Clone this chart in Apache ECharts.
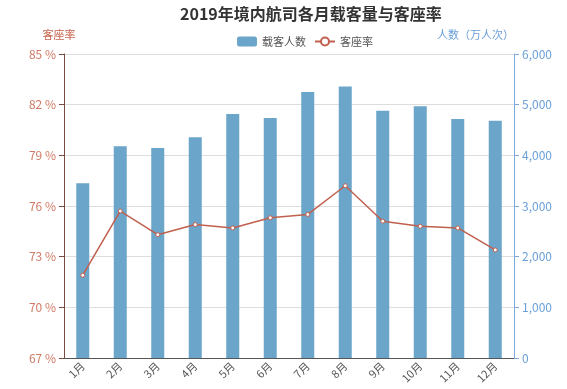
<!DOCTYPE html>
<html><head><meta charset="utf-8">
<script src="https://cdn.jsdelivr.net/npm/echarts@6/dist/echarts.min.js"></script>
<style>html,body{margin:0;padding:0;background:#fff}#c{width:567px;height:389px}</style>
</head><body><div id="c"></div>
<script>
var months = ['1月','2月','3月','4月','5月','6月','7月','8月','9月','10月','11月','12月'];
var passengers = [3450, 4180, 4145, 4355, 4815, 4737, 5250, 5360, 4880, 4970, 4717, 4683];
var loadFactor = [71.9, 75.7, 74.3, 74.9, 74.7, 75.3, 75.5, 77.2, 75.1, 74.8, 74.7, 73.4];
var font = 'Noto Sans CJK SC';
var chart = echarts.init(document.getElementById('c'));
chart.setOption({
  animation: false,
  textStyle: {fontFamily: font},
  title: {text: '2019年境内航司各月载客量与客座率', left: 175, top: 1,
    textStyle: {fontSize: 16, fontWeight: 'bold', color: '#333', fontFamily: font}},
  legend: {top: 31, left: 232, itemWidth: 20, itemHeight: 10, itemGap: 8,
    textStyle: {fontSize: 11, color: '#555', fontFamily: font},
    data: [{name: '载客人数'}, {name: '客座率'}]},
  grid: {left: 64, right: 53, top: 54, bottom: 31, containLabel: false},
  xAxis: {type: 'category', data: months,
    axisLine: {lineStyle: {color: '#555'}},
    axisTick: {alignWithLabel: true, lineStyle: {color: '#555'}},
    axisLabel: {rotate: 45, color: '#555', fontSize: 11, margin: 6}},
  yAxis: [
    {type: 'value', name: '客座率', min: 67, max: 85, interval: 3,
     nameGap: 14, nameTextStyle: {color: '#c8644e', fontSize: 11, align: 'center', padding: [0, 10, 0, 0]},
     axisLine: {show: true, lineStyle: {color: '#7a4a42'}},
     axisTick: {show: true, lineStyle: {color: '#7a4a42'}},
     axisLabel: {formatter: '{value} %', color: '#d07a66', fontSize: 12},
     splitLine: {lineStyle: {color: '#ddd'}}},
    {type: 'value', name: '人数（万人次）', min: 0, max: 6000, interval: 1000,
     nameGap: 14, nameTextStyle: {color: '#6a9fd8', fontSize: 11, align: 'right', padding: [0, 0, 0, 0]},
     axisLine: {show: true, lineStyle: {color: '#7fa9d9'}},
     axisTick: {show: true, lineStyle: {color: '#7fa9d9'}},
     axisLabel: {color: '#6a9fd8', fontSize: 12,
       formatter: function (v) { return v.toLocaleString('en-US'); }},
     splitLine: {show: false}}
  ],
  series: [
    {name: '载客人数', type: 'bar', yAxisIndex: 1, data: passengers, barWidth: 13,
     itemStyle: {color: '#6ba5ca'}},
    {name: '客座率', type: 'line', yAxisIndex: 0, data: loadFactor,
     symbol: 'circle', symbolSize: 4,
     itemStyle: {color: '#fff', borderColor: '#c0604e', borderWidth: 1},
     lineStyle: {color: '#c0604e', width: 1.5}}
  ]
});
</script></body></html>
